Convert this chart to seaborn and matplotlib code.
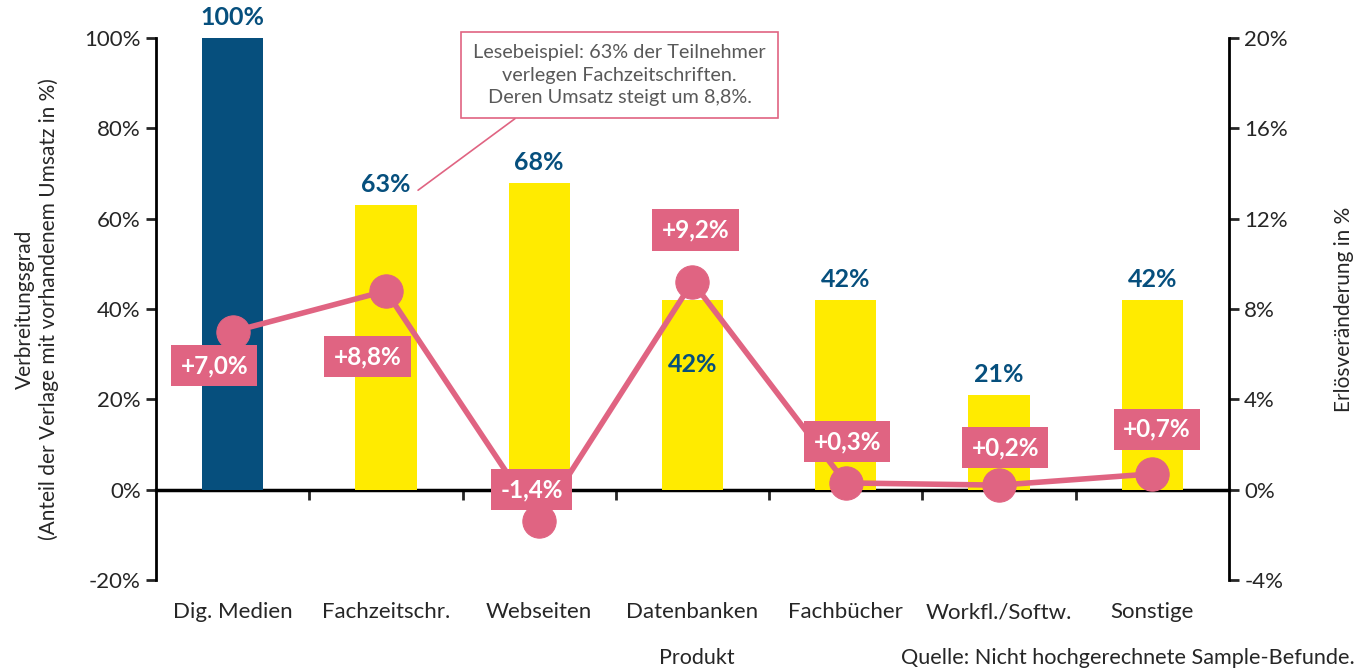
import numpy as np
import pandas as pd
import matplotlib
matplotlib.use('Agg')
import matplotlib.pyplot as plt
import seaborn as sns

# data
categories = ['Dig. Medien', 'Fachzeitschr.', 'Webseiten', 'Datenbanken', 'Fachbücher', 'Workfl./Softw.', 'Sonstige']
verbreitung = [100, 63, 68, 42, 42, 21, 42]
umsatz_change = [7.0, 8.8, -1.4, 9.2, 0.3, 0.2, 0.7]
change_labels = ['+7,0%', '+8,8%', '-1,4%', '+9,2%', '+0,3%', '+0,2%', '+0,7%']
left_ticks = [-20, 0, 20, 40, 60, 80, 100]
right_ticks = [-4, 0, 4, 8, 12, 16, 20]

# label placement (x offset in category units, y on right axis)
change_label_pos = [(-0.12, 5.5), (-0.12, 5.9), (-0.05, 0.0), (0.02, 11.5), (0.01, 2.13), (0.04, 1.87), (0.03, 2.67)]

BLUE = '#064F7D'
YELLOW = '#FFEB00'
PINK = '#E06482'
GREY = '#595959'

sns.set_style('white')
plt.rcParams['font.family'] = ['Lato', 'DejaVu Sans']

TICK_FONT = {'size': 16}
LABEL_FONT = {'size': 15}

df = pd.DataFrame({'Produkt': categories, 'Verbreitung': verbreitung, 'Umsatz': umsatz_change})

fig = plt.figure(figsize=(13.62, 6.70), dpi=100)
ax = fig.add_axes([0.1145, 0.1343, 0.9023 - 0.1145, 0.9433 - 0.1343])

palette = [BLUE] + [YELLOW] * (len(categories) - 1)
sns.barplot(data=df, x='Produkt', y='Verbreitung', hue='Produkt', palette=palette,
            width=0.4, legend=False, ax=ax, saturation=1, linewidth=0)

ax.set_xlim(-0.5, len(categories) - 0.5)
ax.set_ylim(-20, 100)
ax.set_yticks(left_ticks, [f'{t}%' for t in left_ticks], fontdict=TICK_FONT)
ax.set_xticks(range(len(categories)), categories, fontdict=TICK_FONT)
ax.tick_params(axis='x', length=0, pad=16)
ax.tick_params(axis='y', direction='out', length=7, width=2, left=True, pad=4)
ax.set_xlabel('')
ax.set_ylabel('Verbreitungsgrad\n(Anteil der Verlage mit vorhandenem Umsatz in %)',
              fontdict=LABEL_FONT, labelpad=18)
for s in ['top', 'bottom', 'right']:
    ax.spines[s].set_visible(False)
ax.spines['left'].set_linewidth(2)
ax.spines['left'].set_color('black')

# zero line with boundary ticks
zero_ax = ax.secondary_xaxis(1 / 6)
zero_ax.set_xticks(np.arange(0.5, len(categories) - 0.5, 1))
zero_ax.tick_params(direction='out', length=7, width=2, labelbottom=False, labeltop=False,
                    bottom=True, top=False)
zero_ax.spines['bottom'].set_linewidth(2.5)
zero_ax.spines['bottom'].set_color('black')
zero_ax.spines['top'].set_visible(False)

# bar labels
for i, v in enumerate(verbreitung):
    if categories[i] == 'Datenbanken':
        ax.text(i, 27.8, f'{v}%', ha='center', va='center', color=BLUE,
                fontsize=18, fontweight='bold', zorder=5)
    else:
        ax.text(i, v + 4.5, f'{v}%', ha='center', va='center', color=BLUE,
                fontsize=18, fontweight='bold', zorder=5)

# right axis
ax2 = ax.twinx()
sns.lineplot(x=np.arange(len(categories)), y=umsatz_change, ax=ax2, color=PINK, linewidth=4,
             marker='o', markersize=24, markeredgecolor=PINK, zorder=3)
ax2.set_ylim(-4, 20)
ax2.set_xlim(-0.5, len(categories) - 0.5)
ax2.set_yticks(right_ticks, [f'{t}%' for t in right_ticks], fontdict=TICK_FONT)
ax2.tick_params(axis='y', direction='out', length=7, width=2, right=True, pad=4)
ax2.set_ylabel('Erlösveränderung in %', fontdict=LABEL_FONT, labelpad=33)
for s in ['top', 'bottom', 'left']:
    ax2.spines[s].set_visible(False)
ax2.spines['right'].set_linewidth(2)
ax2.spines['right'].set_color('black')

for i, (lab, (dx, y)) in enumerate(zip(change_labels, change_label_pos)):
    ax2.text(i + dx, y, lab, ha='center', va='center', color='white', fontsize=17.5,
             fontweight='bold', zorder=6,
             bbox=dict(boxstyle='square,pad=0.38', facecolor=PINK, edgecolor='none'))

# reading example callout
ax.annotate('Lesebeispiel: 63% der Teilnehmer\nverlegen Fachzeitschriften.\nDeren Umsatz steigt um 8,8%.',
            xy=(1.21, 66.3), xycoords='data',
            xytext=(0.455, 0.888), textcoords='figure fraction',
            ha='center', va='center', fontsize=14.3, color=GREY, linespacing=1.4,
            bbox=dict(boxstyle='square,pad=0.6', facecolor='white', edgecolor=PINK, linewidth=1.2),
            arrowprops=dict(arrowstyle='-', color=PINK, linewidth=1.2, relpos=(0.2, 0),
                            shrinkA=0, shrinkB=0),
            zorder=10, annotation_clip=False)

fig.text(697 / 1362, 1 - 658 / 670, 'Produkt', ha='center', va='center', fontsize=15.5)
fig.text(1355 / 1362, 1 - 658 / 670, 'Quelle: Nicht hochgerechnete Sample-Befunde.',
         ha='right', va='center', fontsize=15.6)

plt.savefig('out.png', dpi=100)
